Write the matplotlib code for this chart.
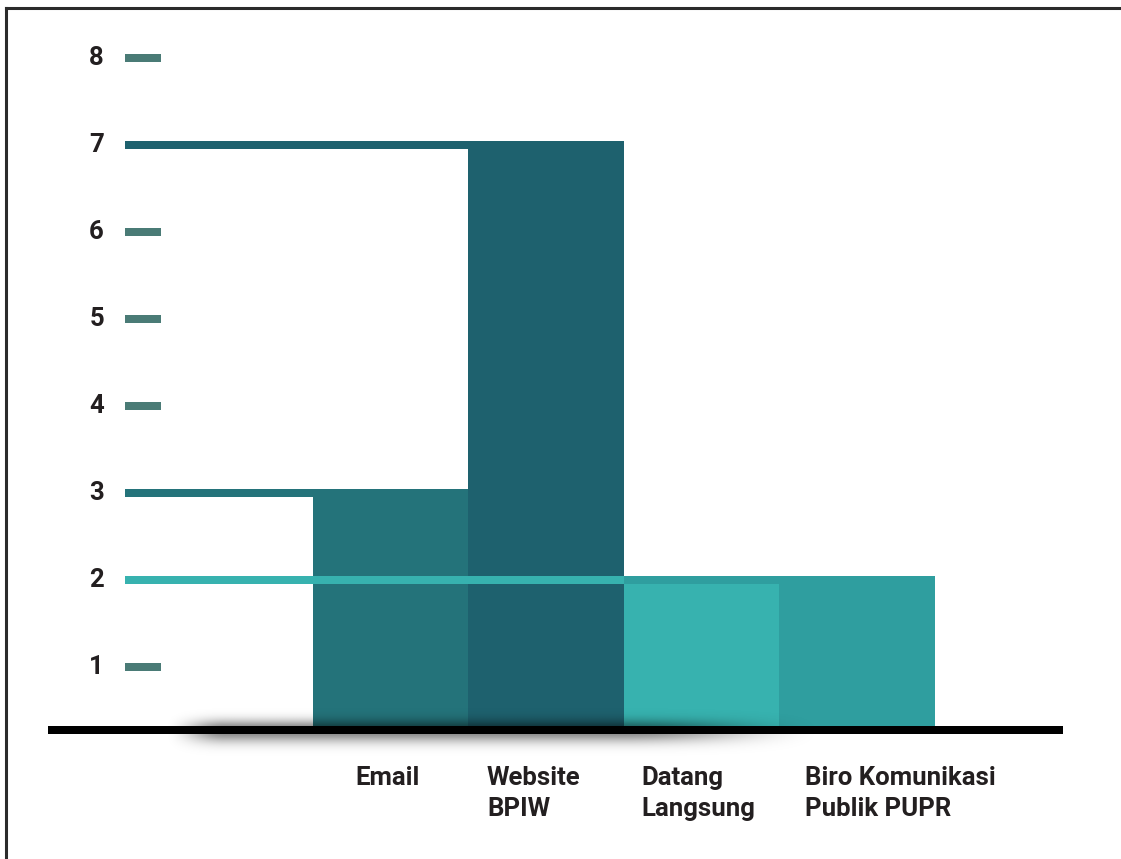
import numpy as np
import matplotlib
matplotlib.use('Agg')
import matplotlib.pyplot as plt
from matplotlib.lines import Line2D

categories = ['Email', 'Website\nBPIW', 'Datang\nLangsung', 'Biro Komunikasi\nPublik PUPR']
values = [3, 7, 2, 2]
tick_values = [1, 2, 3, 4, 5, 6, 7, 8]

bar_colors = ['#24737a', '#1e616e', '#37b2af', '#2f9e9f']
text_color = '#231f20'
dash_color = '#4a7b76'

W, H = 1121, 859
# pixel -> data mapping
X0, XU = 390.5, 155.5
Y0, YU = 750.0, 87.0

def px(x):
    return (x - X0) / XU

def py(y):
    return (Y0 - y) / YU

fig = plt.figure(figsize=(W / 100, H / 100), dpi=100)
ax = fig.add_axes([0, 0, 1, 1])
ax.set_xlim(px(0), px(W))
ax.set_ylim(py(H), py(0))
ax.axis('off')

plt.rcParams['font.family'] = ['Roboto', 'DejaVu Sans']

t = 8 / YU
base_top = py(726)
base_bot = py(734)
x = np.arange(len(values))

# bars
ax.bar(x, [v - base_bot for v in values], bottom=base_bot, width=1.0,
       color=bar_colors, linewidth=0, zorder=2)

# level lines going left from each bar
line_start = [px(125), px(125), px(125), x[2] - 0.5]
for i, v in enumerate(values):
    ax.fill_between([line_start[i], x[i] - 0.5], v - t, v,
                    color=bar_colors[i], linewidth=0, zorder=3)

# short dashes for the other levels
for v in tick_values:
    if v not in values:
        ax.fill_between([px(125), px(161)], v - t, v,
                        color=dash_color, linewidth=0, zorder=3)
    ax.text(px(104), v - t / 2, str(v), ha='right', va='center',
            fontsize=18.5, fontweight='bold', color=text_color)

# soft shadow around the baseline
sx = np.linspace(0, 1, 400)
sy = np.linspace(0, 1, 120)
xs0, xs1 = px(160), px(840)
ys0, ys1 = py(775), py(690)
hx = np.clip((sx - 0.005) / 0.09, 0, 1)
hx = hx * hx * (3 - 2 * hx)
fx = np.clip((0.98 - sx) / 0.3, 0, 1)
fx = fx * fx * (3 - 2 * fx)
horiz = hx * fx
ypix = 775 - sy * (775 - 690)
vert = np.where(ypix < 730, np.exp(-((730 - ypix) / 10) ** 2), np.exp(-((ypix - 730) / 12) ** 2))
alpha = 0.5 * vert[:, None] * horiz[None, :]
img = np.zeros((len(sy), len(sx), 4))
img[..., 3] = alpha
ax.imshow(img, extent=[xs0, xs1, ys0, ys1], origin='lower', aspect='auto',
          zorder=4, interpolation='bilinear')

# baseline
ax.fill_between([px(48), px(1063)], base_bot, base_top, color='black',
                linewidth=0, zorder=5)

# category labels
label_dx = [px(355) - x[0], px(487) - x[1], px(641) - x[2], px(805) - x[3]]
for i, c in enumerate(categories):
    ax.text(x[i] + label_dx[i], py(766), c, ha='left', va='top',
            fontsize=18.5, fontweight='bold', color=text_color, linespacing=1.38)

# frame lines
fig.add_artist(Line2D([6 / W, 6 / W], [0, 1 - 8 / H], transform=fig.transFigure,
                      color='#2b2b2b', linewidth=2.2))
fig.add_artist(Line2D([6 / W, 1], [1 - 8 / H, 1 - 8 / H], transform=fig.transFigure,
                      color='#2b2b2b', linewidth=2.2))

fig.savefig('out.png', dpi=100)
